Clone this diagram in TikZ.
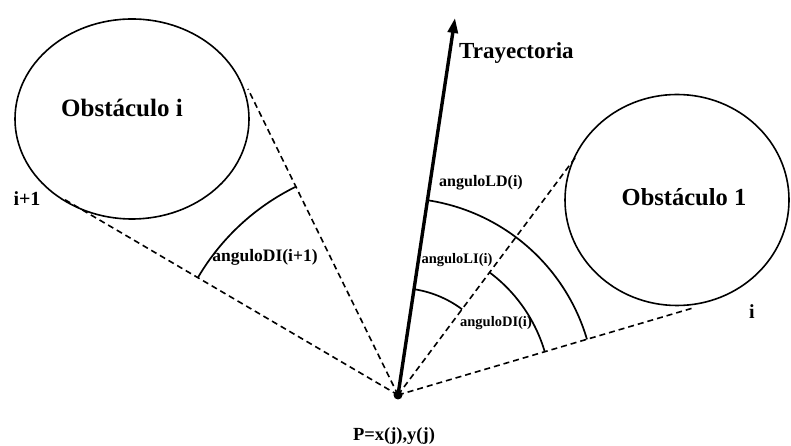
\documentclass[tikz,border=0pt]{standalone}
\usepackage{fontspec}
\setmainfont{Liberation Serif}
\usetikzlibrary{shapes.geometric,arrows.meta}
\begin{document}
\begin{tikzpicture}[x=1pt,y=1pt,
  obst/.style={draw,ellipse,line width=1.6pt,inner sep=0pt},
  dashline/.style={dashed,dash pattern=on 6pt off 4pt,line width=1.6pt},
  angarc/.style={line width=1.7pt},
  traj/.style={line width=3.4pt,-{Triangle[length=15pt,width=10pt]}},
  lbl/.style={font=\bfseries,inner sep=0pt}]
\useasboundingbox (0,0) rectangle (791,446);
% point P
\node[circle,fill,inner sep=0pt,minimum size=9pt] (P) at (398,51) {};
\node[lbl,anchor=base,font=\bfseries\fontsize{18.5}{20}\selectfont] (Plbl) at (394,5) {P=x(j),y(j)};
% obstacles
\node[obst,minimum width=234pt,minimum height=200pt] (obsI) at (132,327) {};
\node[lbl,font=\bfseries\fontsize{25}{28}\selectfont] (obsIt) at (122,338) {Obstáculo i};
\node[obst,minimum width=224pt,minimum height=211pt] (obs1) at (677,246) {};
\node[lbl,font=\bfseries\fontsize{24.5}{28}\selectfont] (obs1t) at (684,249) {Obstáculo 1};
% tangent points
\coordinate (tIu) at (248,357);
\coordinate (tIl) at (62,248);
\coordinate (t1u) at (575,288);
\coordinate (t1l) at (693,138);
\coordinate (tip) at (455,428);
% dashed tangents
\draw[dashline] (P.center) -- (tIu);
\draw[dashline] (P.center) -- (tIl);
\draw[dashline] (P.center) -- (t1u);
\draw[dashline] (P.center) -- (t1l);
% trajectory
\draw[traj] (P.center) -- (tip);
\node[lbl,anchor=west,font=\bfseries\fontsize{23}{26}\selectfont] (trajlbl) at (459,393) {Trayectoria};
% arcs
\draw[angarc] (P.center) ++(116:232) arc[start angle=116,end angle=149.5,radius=232];
\draw[angarc] (P.center) ++(81.4:197) arc[start angle=81.4,end angle=16.4,radius=197];
\draw[angarc] (P.center) ++(53.2:153) arc[start angle=53.2,end angle=16.4,radius=153];
\draw[angarc] (P.center) ++(81.4:107) arc[start angle=81.4,end angle=53.2,radius=107];
% side labels
\node[lbl,font=\bfseries\fontsize{20}{22}\selectfont] (lip1) at (27,247) {i+1};
\node[lbl,font=\bfseries\fontsize{20}{22}\selectfont] (li) at (752,134) {i};
% angle labels
\node[lbl,font=\bfseries\fontsize{16}{18}\selectfont] (aLD) at (481,263) {anguloLD(i)};
\node[lbl,font=\bfseries\fontsize{14.5}{16}\selectfont] (aLI) at (457,186) {anguloLI(i)};
\node[lbl,font=\bfseries\fontsize{14.5}{16}\selectfont] (aDI) at (496,123) {anguloDI(i)};
\node[lbl,font=\bfseries\fontsize{17.5}{19}\selectfont] (aDI1) at (265,189) {anguloDI(i+1)};
\end{tikzpicture}
\end{document}
